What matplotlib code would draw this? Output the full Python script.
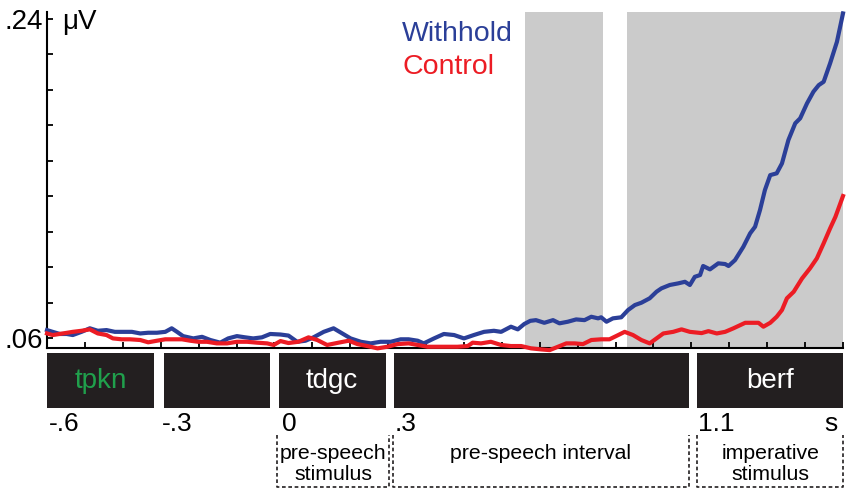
import matplotlib
matplotlib.use("Agg")
import matplotlib.pyplot as plt
from matplotlib.patches import Rectangle

plt.rcParams['font.family'] = ['Liberation Sans', 'DejaVu Sans']

# time (s) and amplitude (uV)
withhold_t = [-0.600, -0.585, -0.566, -0.548, -0.532, -0.509, -0.487, -0.466, -0.443, -0.421,
              -0.399, -0.376, -0.354, -0.333, -0.310, -0.288, -0.271, -0.257, -0.241, -0.214,
              -0.191, -0.169, -0.143, -0.122, -0.099, -0.077, -0.056, -0.033, -0.011, 0.016,
              0.037, 0.060, 0.082, 0.103, 0.130, 0.156, 0.179, 0.201, 0.228, 0.254,
              0.280, 0.307, 0.333, 0.354, 0.378, 0.394, 0.421, 0.447, 0.474, 0.500,
              0.526, 0.553, 0.579, 0.598, 0.624, 0.642, 0.659, 0.675, 0.690, 0.712,
              0.735, 0.752, 0.774, 0.796, 0.818, 0.836, 0.854, 0.862, 0.876, 0.893,
              0.915, 0.933, 0.951, 0.968, 0.990, 1.008, 1.021, 1.043, 1.065, 1.083,
              1.096, 1.109, 1.123, 1.131, 1.149, 1.171, 1.189, 1.198, 1.215, 1.237,
              1.255, 1.268, 1.281, 1.294, 1.308, 1.325, 1.339, 1.356, 1.374, 1.387,
              1.405, 1.422, 1.436, 1.449, 1.466, 1.484, 1.500]
withhold_v = [0.0645, 0.0635, 0.0623, 0.0623, 0.0617, 0.0635, 0.0655, 0.0641, 0.0645, 0.0635,
              0.0635, 0.0635, 0.0626, 0.0630, 0.0630, 0.0635, 0.0655, 0.0635, 0.0611, 0.0598,
              0.0607, 0.0589, 0.0574, 0.0598, 0.0611, 0.0604, 0.0598, 0.0604, 0.0623, 0.0620,
              0.0614, 0.0579, 0.0585, 0.0604, 0.0635, 0.0655, 0.0626, 0.0598, 0.0579, 0.0570,
              0.0579, 0.0579, 0.0593, 0.0593, 0.0585, 0.0570, 0.0598, 0.0623, 0.0617, 0.0598,
              0.0617, 0.0635, 0.0641, 0.0635, 0.0664, 0.0649, 0.0679, 0.0697, 0.0701, 0.0686,
              0.0701, 0.0683, 0.0692, 0.0705, 0.0701, 0.0720, 0.0711, 0.0717, 0.0692, 0.0711,
              0.0717, 0.0758, 0.0786, 0.0799, 0.0824, 0.0861, 0.0880, 0.0899, 0.0908, 0.0917,
              0.0899, 0.0945, 0.0955, 0.1006, 0.0987, 0.1021, 0.1017, 0.1006, 0.1039, 0.1114,
              0.1190, 0.1227, 0.1321, 0.1434, 0.1518, 0.1528, 0.1584, 0.1716, 0.1810, 0.1838,
              0.1922, 0.1988, 0.2025, 0.2044, 0.2148, 0.2269, 0.2429]

control_t = [-0.600, -0.585, -0.558, -0.532, -0.509, -0.487, -0.466, -0.443, -0.426, -0.403,
             -0.381, -0.354, -0.333, -0.310, -0.288, -0.267, -0.244, -0.222, -0.201, -0.178,
             -0.152, -0.125, -0.099, -0.072, -0.046, -0.019, -0.002, 0.016, 0.037, 0.063,
             0.090, 0.113, 0.139, 0.169, 0.196, 0.219, 0.245, 0.272, 0.298, 0.325,
             0.354, 0.378, 0.404, 0.430, 0.457, 0.483, 0.510, 0.523, 0.545, 0.571,
             0.598, 0.624, 0.651, 0.677, 0.704, 0.726, 0.748, 0.770, 0.792, 0.814,
             0.836, 0.862, 0.884, 0.907, 0.924, 0.946, 0.968, 0.990, 1.008, 1.026,
             1.052, 1.074, 1.096, 1.127, 1.145, 1.167, 1.189, 1.211, 1.242, 1.264,
             1.277, 1.290, 1.308, 1.325, 1.339, 1.352, 1.370, 1.392, 1.413, 1.431,
             1.449, 1.466, 1.480, 1.500]
control_v = [0.0626, 0.0617, 0.0626, 0.0635, 0.0641, 0.0649, 0.0626, 0.0617, 0.0598, 0.0593,
             0.0593, 0.0589, 0.0576, 0.0585, 0.0593, 0.0593, 0.0593, 0.0585, 0.0579, 0.0579,
             0.0570, 0.0570, 0.0579, 0.0579, 0.0574, 0.0570, 0.0561, 0.0583, 0.0572, 0.0579,
             0.0604, 0.0589, 0.0561, 0.0574, 0.0585, 0.0566, 0.0555, 0.0542, 0.0551, 0.0566,
             0.0570, 0.0561, 0.0551, 0.0551, 0.0551, 0.0551, 0.0555, 0.0574, 0.0570, 0.0579,
             0.0561, 0.0555, 0.0555, 0.0542, 0.0536, 0.0532, 0.0551, 0.0570, 0.0570, 0.0566,
             0.0589, 0.0593, 0.0593, 0.0617, 0.0635, 0.0617, 0.0589, 0.0570, 0.0598, 0.0626,
             0.0635, 0.0649, 0.0635, 0.0628, 0.0639, 0.0626, 0.0635, 0.0655, 0.0686, 0.0686,
             0.0686, 0.0664, 0.0686, 0.0720, 0.0758, 0.0824, 0.0861, 0.0936, 0.0993, 0.1049,
             0.1134, 0.1218, 0.1283, 0.1400]

# shaded windows (s)
shade_spans = [(0.66, 0.868), (0.93, 1.5)]

# word boxes under the axis
box_spans = [(-0.6, -0.317), (-0.291, -0.011), (0.011, 0.294), (0.315, 1.093), (1.114, 1.5)]
box_labels = ['tpkn', '', 'tdgc', '', 'berf']
box_label_colors = ['#20a04c', 'white', 'white', 'white', 'white']

# time labels
time_labels = ['-.6', '-.3', '0', '.3', '1.1', 's']
time_label_x = [-0.595, -0.296, 0.02, 0.316, 1.118, 1.45]

# dashed interval brackets
interval_spans = [(0.008, 0.302), (0.312, 1.093), (1.116, 1.5)]
interval_labels = ['pre-speech\nstimulus', 'pre-speech interval', 'imperative\nstimulus']

y_ticks = [0.06, 0.08, 0.10, 0.12, 0.14, 0.16, 0.18, 0.20, 0.22, 0.24]
y_tick_labels = ['.06', '', '', '', '', '', '', '', '', '.24']

BLUE = '#2b3f98'
RED = '#ec1c24'
GRAY = '#cbcbcb'
DARK = '#231f20'

W, H = 850, 494


def px_rect(x0, y0, x1, y1):
    return [x0 / W, 1 - y1 / H, (x1 - x0) / W, (y1 - y0) / H]


fig = plt.figure(figsize=(W / 100, H / 100), dpi=100)
ax = fig.add_axes(px_rect(47, 12, 843, 348))

for s0, s1 in shade_spans:
    ax.axvspan(s0, s1, color=GRAY, lw=0, zorder=0)

ax.plot(withhold_t, withhold_v, color=BLUE, lw=3.0, clip_on=False, zorder=3)
ax.plot(control_t, control_v, color=RED, lw=3.0, clip_on=False, zorder=3)

ax.set_xlim(-0.6, 1.5)
ax.set_ylim(0.0544, 0.2437)
ax.set_xticks([round(-0.6 + 0.1 * i, 1) for i in range(22)])
ax.set_xticklabels([])
ax.set_yticks(y_ticks, labels=y_tick_labels)
ax.tick_params(axis='both', direction='in', length=4, width=1.3, color='black')
ax.tick_params(axis='y', labelsize=20, pad=3)
for side in ['top', 'right']:
    ax.spines[side].set_visible(False)
for side in ['left', 'bottom']:
    ax.spines[side].set_linewidth(1.5)

fig.text(62 / W, 1 - 22 / H, 'μV', fontsize=20, va='center', ha='left')
fig.text(402 / W, 1 - 34 / H, 'Withhold', fontsize=20.5, color=BLUE, va='center', ha='left')
fig.text(402 / W, 1 - 67 / H, 'Control', fontsize=20.5, color=RED, va='center', ha='left')

# lower panel: y in figure pixel rows
lax = fig.add_axes(px_rect(47, 348, 843, 494))
lax.set_xlim(-0.6, 1.5)
lax.set_ylim(494, 348)
lax.axis('off')

for (b0, b1), lab, col in zip(box_spans, box_labels, box_label_colors):
    lax.add_patch(Rectangle((b0, 353), b1 - b0, 55, facecolor=DARK, edgecolor='none', clip_on=False))
    if lab:
        lax.text((b0 + b1) / 2, 381, lab, color=col, fontsize=20, ha='center', va='center')

for xl, lab in zip(time_label_x, time_labels):
    lax.text(xl, 424, lab, fontsize=19, ha='left', va='center')

for (i0, i1), lab in zip(interval_spans, interval_labels):
    lax.plot([i0, i0, i1, i1], [435, 487, 487, 435], color=DARK, lw=1.2,
             ls=(0, (2.2, 1.6)), clip_on=False)
    ty = 453 if '\n' not in lab else 464
    lax.text((i0 + i1) / 2, ty, lab, fontsize=15.3, ha='center', va='center', linespacing=1.1)

fig.savefig('out.png', dpi=100)
